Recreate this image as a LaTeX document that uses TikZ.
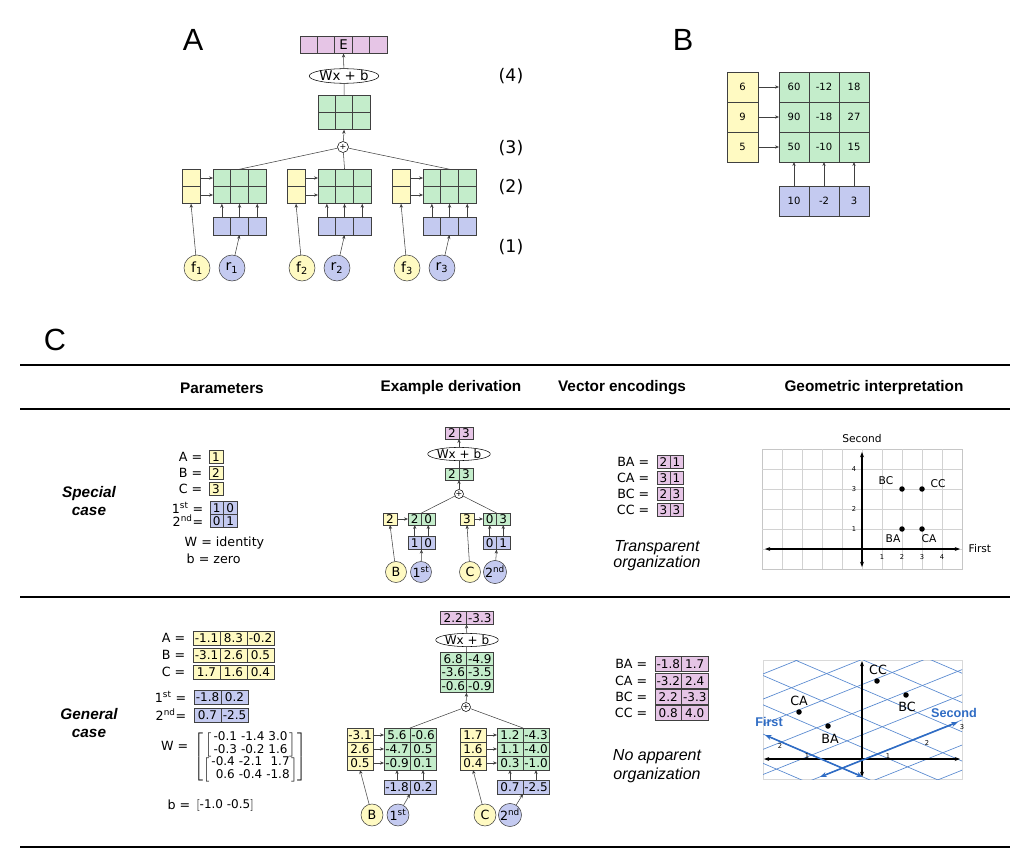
\documentclass[tikz,border=0pt]{standalone}
\usepackage{fontspec}
\setmainfont{DejaVu Sans}
\newfontfamily\arial{Liberation Sans}
\usetikzlibrary{shapes.geometric,arrows.meta}
\definecolor{yel}{HTML}{FFFAC2}
\definecolor{grn}{HTML}{C4EDCB}
\definecolor{blu}{HTML}{C4CAF0}
\definecolor{pnk}{HTML}{E6C5E6}
\definecolor{edgegray}{HTML}{404040}
\definecolor{axblue}{HTML}{2F6CC4}
\newcommand\fs[1]{\fontsize{#1}{#1}\selectfont}
% one row of cells: name, left x, centre y, cell width, cell height, fill, texts
\newcommand\cellrow[7]{%
  \foreach \t [count=\i] in {#7} {
    \node[cell, fill=#6, minimum width=#4*0.75pt, minimum height=#5*0.75pt]
      (#1-\i) at ({#2+(\i-0.5)*#4}, #3) {\t};
  }}
\newcommand\mb[1]{\mbox{#1}}

\begin{document}
\begin{tikzpicture}[x=0.75pt, y=-0.75pt,
  cell/.style={draw=edgegray, line width=0.6pt, inner sep=0pt, outer sep=0pt, font=\fs{8}},
  arr/.style={-{Stealth[length=3pt,width=2.5pt]}, edgegray},
  edge/.style={edgegray},
  ring/.style={circle, draw=edgegray, inner sep=0pt, minimum size=26*0.75pt, font=\fs{10.5}},
  lin/.style={ellipse, draw=black, fill=white, inner sep=0pt, font=\fs{9}},
  sum/.style={circle, draw=black, fill=white, inner sep=0pt, minimum size=11*0.75pt, font=\fs{6}},
  dot/.style={circle, fill=black, inner sep=0pt, minimum size=5.5*0.75pt},
  hdr/.style={font=\arial\bfseries\fs{11.5}},
  panel/.style={font=\arial\fs{23}},
  rowlab/.style={font=\arial\bfseries\itshape\fs{11.5}, align=center},
  note/.style={font=\arial\itshape\fs{12}, align=center},
  tick/.style={font=\fs{5}, inner sep=1pt}
]
\useasboundingbox (0,0) rectangle (1028,859);

% panel letters
\node[panel] (letA) at (193,40) {A};
\node[panel] (letB) at (683,40) {B};
\node[panel] (letC) at (55,340) {C};

% ---------- A ----------
\begin{scope}[cell/.append style={font=\fs{10}}]
\cellrow{EA}{300}{45}{17.4}{17}{pnk}{{},{},E,{},{}}
\end{scope}
\node[lin, minimum width=64*0.75pt, minimum height=14*0.75pt, font=\fs{10}] (linA) at (344,76) {Wx + b};
\cellrow{topA}{318}{104}{17.4}{17.5}{grn}{{},{},{}}
\cellrow{botA}{318}{121}{17.4}{17.5}{grn}{{},{},{}}
\node[sum] (sumA) at (343,147) {+};
\foreach \k/\dx in {1/0,2/105,3/210} {
  \cellrow{yAa\k}{182+\dx}{178}{18}{17.5}{yel}{{}}
  \cellrow{yAb\k}{182+\dx}{195}{18}{17.5}{yel}{{}}
  \cellrow{gAa\k}{213+\dx}{178}{17.7}{17.5}{grn}{{},{},{}}
  \cellrow{gAb\k}{213+\dx}{195}{17.7}{17.5}{grn}{{},{},{}}
  \cellrow{bA\k}{213+\dx}{226}{17.7}{18}{blu}{{},{},{}}
  \node[ring, fill=yel] (fA\k) at (197+\dx,268) {f\textsubscript{\k}};
  \node[ring, fill=blu] (rA\k) at (232+\dx,268) {r\textsubscript{\k}};
  \draw[arr] (yAa\k-1.east) -- (gAa\k-1.west);
  \draw[arr] (yAb\k-1.east) -- (gAb\k-1.west);
  \foreach \j in {1,2,3} { \draw[arr] (bA\k-\j.north) -- (gAb\k-\j.south); }
  \draw[arr] (fA\k) -- (yAb\k-1.south);
  \draw[arr] (rA\k) -- (bA\k-2.south);
  \draw[edge] (gAa\k-2.north) -- (sumA);
}
\draw[arr] (sumA) -- (botA-2.south);
\draw[edge] (topA-2.north) -- (linA);
\draw[arr] (linA) -- (EA-3.south);
\foreach \n/\y in {4/76,3/148,2/187,1/247} { \node[font=\fs{13}] (lev\n) at (511,\y) {(\n)}; }

% ---------- B ----------
\begin{scope}[cell/.append style={font=\fs{7.5}}]
\cellrow{yB1}{727}{87}{31}{30}{yel}{6}
\cellrow{yB2}{727}{117}{31}{30}{yel}{9}
\cellrow{yB3}{727}{147}{31}{30}{yel}{5}
\cellrow{gB1}{779}{87}{30}{30}{grn}{60,-12,18}
\cellrow{gB2}{779}{117}{30}{30}{grn}{90,-18,27}
\cellrow{gB3}{779}{147}{30}{30}{grn}{50,-10,15}
\cellrow{bB}{779}{201}{30}{30}{blu}{10,-2,3}
\end{scope}
\foreach \r in {1,2,3} { \draw[arr] (yB\r-1.east) -- (gB\r-1.west); }
\foreach \j in {1,2,3} { \draw[arr] (bB-\j.north) -- (gB3-\j.south); }

% ---------- C: table ----------
\draw[line width=1.5pt] (20,365) -- (1010,365);
\draw[line width=1.5pt] (20,409) -- (1010,409);
\draw[line width=1.5pt] (20,597) -- (1010,597);
\draw[line width=1.5pt] (20,847) -- (1010,847);
\node[hdr] (hPar) at (222,388) {Parameters};
\node[hdr] (hDer) at (451,388) {Example derivation};
\node[hdr] (hVec) at (622,388) {Vector encodings};
\node[hdr] (hGeo) at (874,388) {Geometric interpretation};
\node[rowlab] (rowS) at (89,501) {Special\\[2pt]case};
\node[rowlab] (rowG) at (89,723) {General\\[2pt]case};

% special case: parameters
\begin{scope}[cell/.append style={font=\fs{9}}]
\foreach \v/\y/\val in {A/457/1, B/473/2, C/489/3} {
  \node[anchor=east, font=\fs{9.5}] (lS\v) at (207,\y) {\v\ =};
  \cellrow{pS\v}{209}{\y}{14}{13}{yel}{\val}
}
\node[anchor=east, font=\fs{9.5}] (lS1) at (208,508) {1\textsuperscript{st} =};
\cellrow{pS1}{210}{508}{13.5}{13}{blu}{1,0}
\node[anchor=east, font=\fs{9.5}] (lS2) at (208,521) {2\textsuperscript{nd}=};
\cellrow{pS2}{210}{521}{13.5}{13}{blu}{0,1}
\end{scope}
\node[anchor=west, font=\fs{9.5}] (lSW) at (180,543) {W = identity};
\node[anchor=west, font=\fs{9.5}] (lSb) at (182,559) {b = zero};

% special case: derivation
\begin{scope}[cell/.append style={font=\fs{9}}]
\cellrow{dS}{445}{433}{14}{12}{pnk}{2,3}
\cellrow{tS}{445}{474}{14}{12}{grn}{2,3}
\cellrow{ySl}{383}{519}{14}{12}{yel}{2}
\cellrow{gSl}{408}{519}{13.5}{12}{grn}{2,0}
\cellrow{bSl}{408}{543}{13.5}{13}{blu}{1,0}
\cellrow{ySr}{460}{519}{14}{12}{yel}{3}
\cellrow{gSr}{483}{519}{13.5}{12}{grn}{0,3}
\cellrow{bSr}{483}{543}{13.5}{13}{blu}{0,1}
\end{scope}
\node[lin, minimum width=51*0.75pt, minimum height=12*0.75pt] (linS) at (459,454) {Wx + b};
\node[sum, minimum size=9*0.75pt] (sumS) at (459,494) {+};
\begin{scope}[ring/.append style={minimum size=21*0.75pt, font=\fs{9.5}}]
\node[ring, fill=yel] (cBS) at (396,572) {B};
\node[ring, fill=blu] (cFS) at (421,572) {1\textsuperscript{st}};
\node[ring, fill=yel] (cCS) at (470,572) {C};
\node[ring, fill=blu] (cNS) at (495,572) {2\textsuperscript{nd}};
\end{scope}
\foreach \s in {l,r} {
  \draw[arr] (yS\s-1.east) -- (gS\s-1.west);
  \foreach \j in {1,2} { \draw[arr] (bS\s-\j.north) -- (gS\s-\j.south); }
  \draw[edge] (gS\s-1.north east) -- (sumS);
}
\draw[arr] (cBS) -- (ySl-1.south);
\draw[arr] (cFS) -- (bSl-1.south east);
\draw[arr] (cCS) -- (ySr-1.south);
\draw[arr] (cNS) -- (bSr-1.south east);
\draw[arr] (sumS) -- (tS-1.south east);
\draw[edge] (tS-1.north east) -- (linS);
\draw[arr] (linS) -- (dS-1.south east);

% special case: encodings
\begin{scope}[cell/.append style={font=\fs{9}}]
\foreach \v/\y/\a/\b in {BA/462/2/1, CA/478/3/1, BC/494/2/3, CC/510/3/3} {
  \node[anchor=east, font=\fs{9.5}] (eS\v) at (654,\y) {\v\ =};
  \cellrow{vS\v}{657}{\y}{13}{13}{pnk}{\a,\b}
}
\end{scope}
\node[note] (noteS) at (657,556) {Transparent\\organization};

% special case: geometry
\draw[gray!45] (762,449) rectangle (962,569);
\foreach \gx in {782,802,...,942} { \draw[gray!35] (\gx,449) -- (\gx,569); }
\foreach \gy in {469,489,...,549} { \draw[gray!35] (762,\gy) -- (962,\gy); }
\coordinate (sxl) at (765,549); \coordinate (sxr) at (960,549);
\coordinate (syt) at (862,452); \coordinate (syb) at (862,567);
\draw[{Stealth[length=4pt]}-{Stealth[length=4pt]}, thick] (sxl) -- (sxr);
\draw[{Stealth[length=4pt]}-{Stealth[length=4pt]}, thick] (syb) -- (syt);
\node[anchor=west, font=\fs{8}] (sFirst) at (964,549) {First};
\node[font=\fs{8}] (sSecond) at (862,439) {Second};
\foreach \n in {1,...,4} {
  \node[tick] (stx\n) at (862+20*\n,557) {\n};
  \node[tick] (sty\n) at (854,549-20*\n) {\n};
}
\node[dot] (sBA) at (902,529) {}; \node[dot] (sCA) at (922,529) {};
\node[dot] (sBC) at (902,489) {}; \node[dot] (sCC) at (922,489) {};
\node[font=\fs{8}, anchor=east] (sBCl) at (898,481) {BC};
\node[font=\fs{8}, anchor=west] (sCCl) at (926,484) {CC};
\node[font=\fs{8}] (sBAl) at (893,539) {BA};
\node[font=\fs{8}] (sCAl) at (929,539) {CA};

% general case: parameters
\begin{scope}[cell/.append style={font=\fs{9}}]
\node[anchor=east, font=\fs{9.5}] (lGA) at (190,638) {A =};
\cellrow{pGA}{193}{638}{27}{14}{yel}{-1.1,8.3,-0.2}
\node[anchor=east, font=\fs{9.5}] (lGB) at (190,655) {B =};
\cellrow{pGB}{193}{655}{27}{14}{yel}{-3.1,2.6,0.5}
\node[anchor=east, font=\fs{9.5}] (lGC) at (190,672) {C =};
\cellrow{pGC}{193}{672}{27}{14}{yel}{1.7,1.6,0.4}
\node[anchor=east, font=\fs{9.5}] (lG1) at (191,697) {1\textsuperscript{st} =};
\cellrow{pG1}{194}{697}{27}{14}{blu}{-1.8,0.2}
\node[anchor=east, font=\fs{9.5}] (lG2) at (191,715) {2\textsuperscript{nd}=};
\cellrow{pG2}{194}{715}{27}{14}{blu}{0.7,-2.5}
\end{scope}
\node[anchor=east, font=\fs{9.5}] (lGW) at (193,746) {W =};
\node[anchor=west, font=\fs{9}, inner sep=0pt] (mGW) at (194,757) {$\arraycolsep=1.5pt
  \left[\begin{array}{@{}c@{}}
  \left[\begin{array}{rrr}\mb{-0.1}&\mb{-1.4}&\mb{3.0}\\ \mb{-0.3}&\mb{-0.2}&\mb{1.6}\end{array}\right]\\
  \left[\begin{array}{rrr}\mb{-0.4}&\mb{-2.1}&\mb{1.7}\\ \mb{0.6}&\mb{-0.4}&\mb{-1.8}\end{array}\right]
  \end{array}\right]$};
\node[anchor=east, font=\fs{9.5}] (lGb) at (195,805) {b =};
\node[anchor=west, font=\fs{9}, inner sep=0pt] (mGb) at (196,805) {$\left[\mb{-1.0 -0.5}\right]$};

% general case: derivation
\begin{scope}[cell/.append style={font=\fs{9}}]
\cellrow{dG}{440}{618}{26.5}{13}{pnk}{2.2,-3.3}
\cellrow{tGa}{440}{659}{26.5}{13.5}{grn}{6.8,-4.9}
\cellrow{tGb}{440}{672.5}{26.5}{13.5}{grn}{-3.6,-3.5}
\cellrow{tGc}{440}{686}{26.5}{13.5}{grn}{-0.6,-0.9}
\foreach \s/\yx/\gx/\r/\ry/\yv/\ga/\gb in {l/347/384/a/735/-3.1/5.6/-0.6, l/347/384/b/749/2.6/-4.7/0.5, l/347/384/c/763/0.5/-0.9/0.1,
                                     r/460/497/a/735/1.7/1.2/-4.3, r/460/497/b/749/1.6/1.1/-4.0, r/460/497/c/763/0.4/0.3/-1.0} {
  \cellrow{yG\s\r}{\yx}{\ry}{26}{14}{yel}{\yv}
  \cellrow{gG\s\r}{\gx}{\ry}{26}{14}{grn}{\ga,\gb}
  \draw[arr] (yG\s\r-1.east) -- (gG\s\r-1.west);
}
\cellrow{bGl}{384}{787}{26}{14}{blu}{-1.8,0.2}
\cellrow{bGr}{497}{787}{26}{14}{blu}{0.7,-2.5}
\end{scope}
\node[lin, minimum width=51*0.75pt, minimum height=12*0.75pt] (linG) at (467,640) {Wx + b};
\node[sum, minimum size=9*0.75pt] (sumG) at (466,707) {+};
\begin{scope}[ring/.append style={minimum size=22*0.75pt, font=\fs{9.5}}]
\node[ring, fill=yel] (cBG) at (372,815) {B};
\node[ring, fill=blu] (cFG) at (398,815) {1\textsuperscript{st}};
\node[ring, fill=yel] (cCG) at (485,815) {C};
\node[ring, fill=blu] (cNG) at (510,815) {2\textsuperscript{nd}};
\end{scope}
\foreach \s in {l,r} {
  \foreach \j in {1,2} { \draw[arr] (bG\s-\j.north) -- (gG\s c-\j.south); }
  \draw[edge] (gG\s a-1.north east) -- (sumG);
}
\draw[arr] (cBG) -- (yGlc-1.south);
\draw[arr] (cFG) -- (bGl-1.south east);
\draw[arr] (cCG) -- (yGrc-1.south);
\draw[arr] (cNG) -- (bGr-1.south east);
\draw[arr] (sumG) -- (tGc-1.south east);
\draw[edge] (tGa-1.north east) -- (linG);
\draw[arr] (linG) -- (dG-1.south east);

% general case: encodings
\begin{scope}[cell/.append style={font=\fs{9}}]
\foreach \v/\y/\a/\b in {BA/664/-1.8/1.7, CA/681/-3.2/2.4, BC/697/2.2/-3.3, CC/713/0.8/4.0} {
  \node[anchor=east, font=\fs{9.5}] (eG\v) at (652,\y) {\v\ =};
  \cellrow{vG\v}{655}{\y}{26.5}{15}{pnk}{\a,\b}
}
\end{scope}
\node[note] (noteG) at (657,766) {No apparent\\[2pt]organization};

% general case: geometry
\draw[gray!30] (763,660) rectangle (962,779);
\begin{scope}
\clip (763,660) rectangle (962,779);
\foreach \k in {-8,...,8} {
  \draw[axblue!80, line width=0.5pt] ({842+35.3*\k+242},{768-14.1*\k+104}) -- ({842+35.3*\k-242},{768-14.1*\k-104});
  \draw[axblue!80, line width=0.5pt] ({842-30.3*\k-282},{768-13*\k+113}) -- ({842-30.3*\k+282},{768-13*\k-113});
}
\end{scope}
\coordinate (gxl) at (764,759); \coordinate (gxr) at (960,759);
\coordinate (gyt) at (862,661); \coordinate (gyb) at (862,777);
\draw[{Stealth[length=4pt]}-{Stealth[length=4pt]}, thick] (gxl) -- (gxr);
\draw[{Stealth[length=4pt]}-{Stealth[length=4pt]}, thick] (gyb) -- (gyt);
\coordinate (f0) at (863,777); \coordinate (f1) at (765,735);
\coordinate (s0) at (820,777); \coordinate (s1) at (958,722);
\draw[{Stealth[length=5pt]}-{Stealth[length=5pt]}, axblue, line width=1.2pt] (f0) -- (f1);
\draw[{Stealth[length=5pt]}-{Stealth[length=5pt]}, axblue, line width=1.2pt] (s0) -- (s1);
\node[font=\arial\bfseries\fs{9.5}, text=axblue] (gFirst) at (769,722) {First};
\node[font=\arial\bfseries\fs{9.5}, text=axblue] (gSecond) at (954,713) {Second};
\node[tick] (gf1) at (807,756) {1}; \node[tick] (gf2) at (780,746) {2};
\node[tick] (gs1) at (888,756) {1}; \node[tick] (gs2) at (927,743) {2}; \node[tick] (gs3) at (962,727) {3};
\node[dot] (gCC) at (877,681) {}; \node[dot] (gBC) at (906,695) {};
\node[dot] (gCA) at (799,712) {}; \node[dot] (gBA) at (828,726) {};
\node[font=\fs{9.5}] (gCCl) at (878,670) {CC};
\node[font=\fs{9.5}] (gBCl) at (907,707) {BC};
\node[font=\fs{9.5}] (gCAl) at (799,701) {CA};
\node[font=\fs{9.5}] (gBAl) at (830,739) {BA};
\end{tikzpicture}
\end{document}
